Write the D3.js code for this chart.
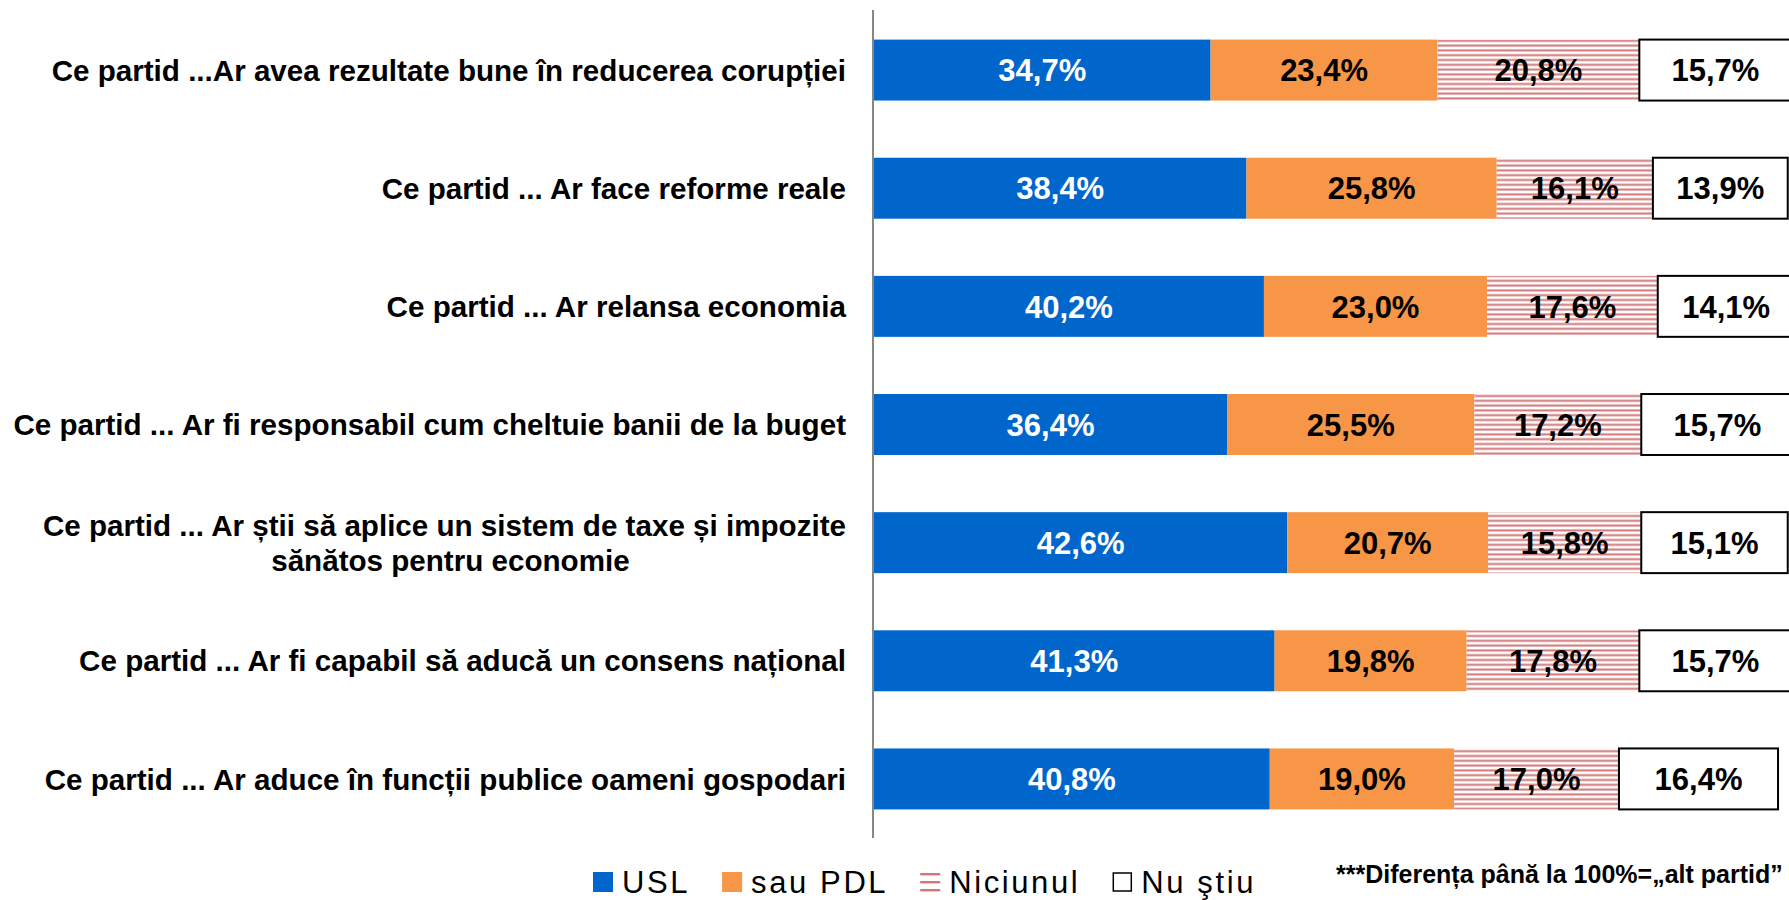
<!DOCTYPE html>
<html>
<head>
<meta charset="utf-8">
<script src="https://cdn.jsdelivr.net/npm/d3@7"></script>
<style>
  html, body { margin: 0; padding: 0; background: #ffffff; }
  svg { display: block; }
  text { font-family: "Liberation Sans", Arial, sans-serif; }
</style>
</head>
<body>
<svg id="chart" width="1789" height="900"></svg>
<script>
// ---------- data ----------
const categories = [
  ["Ce partid ...Ar avea rezultate bune în reducerea corupției"],
  ["Ce partid ... Ar face reforme reale"],
  ["Ce partid ... Ar relansa economia"],
  ["Ce partid ... Ar fi responsabil cum cheltuie banii de la buget"],
  ["Ce partid ... Ar știi să aplice un sistem de taxe și impozite", "sănătos pentru economie"],
  ["Ce partid ... Ar fi capabil să aducă un consens național"],
  ["Ce partid ... Ar aduce în funcții publice oameni gospodari"]
];
const seriesNames = ["USL", "sau PDL", "Niciunul", "Nu ştiu"];
const usl      = [34.7, 38.4, 40.2, 36.4, 42.6, 41.3, 40.8];
const pdl      = [23.4, 25.8, 23.0, 25.5, 20.7, 19.8, 19.0];
const niciunul = [20.8, 16.1, 17.6, 17.2, 15.8, 17.8, 17.0];
const nustiu   = [15.7, 13.9, 14.1, 15.7, 15.1, 15.7, 16.4];
const footnote = "***Diferența până la 100%=„alt partid”";

// ---------- layout ----------
const W = 1789, H = 900;
const axisX = 874;
const svg = d3.select("#chart");
const hatchCol = "#d27779";

const defs = svg.append("defs");
const pat = defs.append("pattern")
  .attr("id", "hatch").attr("patternUnits", "userSpaceOnUse")
  .attr("width", 8).attr("height", 4.8);
pat.append("rect").attr("width", 8).attr("height", 4.8).attr("fill", "#ffffff");
pat.append("rect").attr("y", 1.4).attr("width", 8).attr("height", 2).attr("fill", hatchCol);

const keys = categories.map((c, i) => i);
const y = d3.scaleBand().domain(keys).range([11, 838]).paddingInner(0.484).paddingOuter(0.242);
const x = d3.scaleLinear().domain([0, 100]).range([axisX, axisX + 970]);

const rows = keys.map(i => ({ i, values: [usl[i], pdl[i], niciunul[i], nustiu[i]] }));
const stack = d3.stack().keys([0, 1, 2, 3]).value((d, k) => d.values[k]);
const stacked = stack(rows);

const fills = ["#0066cc", "#f79646", "url(#hatch)", "#ffffff"];
const textCols = ["#ffffff", "#000000", "#000000", "#000000"];
const fmt = v => d3.format(".1f")(v).replace(".", ",") + "%";

const gBars = svg.append("g");
stacked.forEach((layer, k) => {
  const g = gBars.append("g");
  g.selectAll("rect").data(layer).join("rect")
    .attr("x", d => x(d[0]))
    .attr("y", d => y(d.data.i))
    .attr("width", d => x(d[1]) - x(d[0]))
    .attr("height", y.bandwidth())
    .attr("fill", fills[k])
    .attr("stroke", k === 3 ? "#000000" : "none")
    .attr("stroke-width", k === 3 ? 2 : 0);
  g.selectAll("text").data(layer).join("text")
    .attr("x", d => (x(d[0]) + x(d[1])) / 2)
    .attr("y", d => y(d.data.i) + y.bandwidth() / 2)
    .attr("dy", "0.36em")
    .attr("text-anchor", "middle")
    .attr("font-size", 31)
    .attr("font-weight", "bold")
    .attr("fill", textCols[k])
    .text(d => fmt(d.data.values[k]));
});

// axis line
svg.append("line")
  .attr("x1", axisX - 1).attr("x2", axisX - 1)
  .attr("y1", 10).attr("y2", 838)
  .attr("stroke", "#868686").attr("stroke-width", 2);

// category labels
const labelX = 846;
const labelSize = 29.6;
const gLab = svg.append("g");
categories.forEach((lines, i) => {
  const cy = y(i) + y.bandwidth() / 2;
  if (lines.length === 1) {
    gLab.append("text")
      .attr("x", labelX).attr("y", cy).attr("dy", "0.36em")
      .attr("text-anchor", "end")
      .attr("font-size", labelSize).attr("font-weight", "bold").attr("fill", "#000")
      .text(lines[0]);
  } else {
    const lh = 35;
    const t1 = gLab.append("text")
      .attr("x", labelX).attr("y", cy - lh / 2).attr("dy", "0.36em")
      .attr("text-anchor", "end")
      .attr("font-size", labelSize).attr("font-weight", "bold").attr("fill", "#000")
      .text(lines[0]);
    const w1 = t1.node().getComputedTextLength();
    gLab.append("text")
      .attr("x", labelX - w1 / 2 + 6).attr("y", cy + lh / 2).attr("dy", "0.36em")
      .attr("text-anchor", "middle")
      .attr("font-size", labelSize).attr("font-weight", "bold").attr("fill", "#000")
      .text(lines[1]);
  }
});

// legend
const legend = svg.append("g");
let lx = 593;
const ly = 872, sq = 20;
seriesNames.forEach((name, k) => {
  if (k === 2) {
    [1, 9, 17].forEach(o => {
      legend.append("rect").attr("x", lx).attr("y", ly + o).attr("width", sq).attr("height", 2.4)
        .attr("fill", hatchCol);
    });
  } else if (k === 3) {
    legend.append("rect").attr("x", lx + 1).attr("y", ly + 1).attr("width", sq - 2).attr("height", sq - 2)
      .attr("fill", "#fff").attr("stroke", "#000").attr("stroke-width", 1.5);
  } else {
    legend.append("rect").attr("x", lx).attr("y", ly).attr("width", sq).attr("height", sq)
      .attr("fill", fills[k]);
  }
  const t = legend.append("text")
    .attr("x", lx + sq + 9).attr("y", 893)
    .attr("font-family", "'DejaVu Sans', sans-serif")
    .attr("font-size", 31).attr("letter-spacing", 2.6).attr("fill", "#000")
    .text(name);
  const w = t.node().getComputedTextLength();
  lx = lx + sq + 9 + w + 32;
});

// footnote
svg.append("text")
  .attr("x", 1336).attr("y", 883)
  .attr("font-size", 25).attr("font-weight", "bold").attr("fill", "#000")
  .text(footnote);
</script>
</body>
</html>
